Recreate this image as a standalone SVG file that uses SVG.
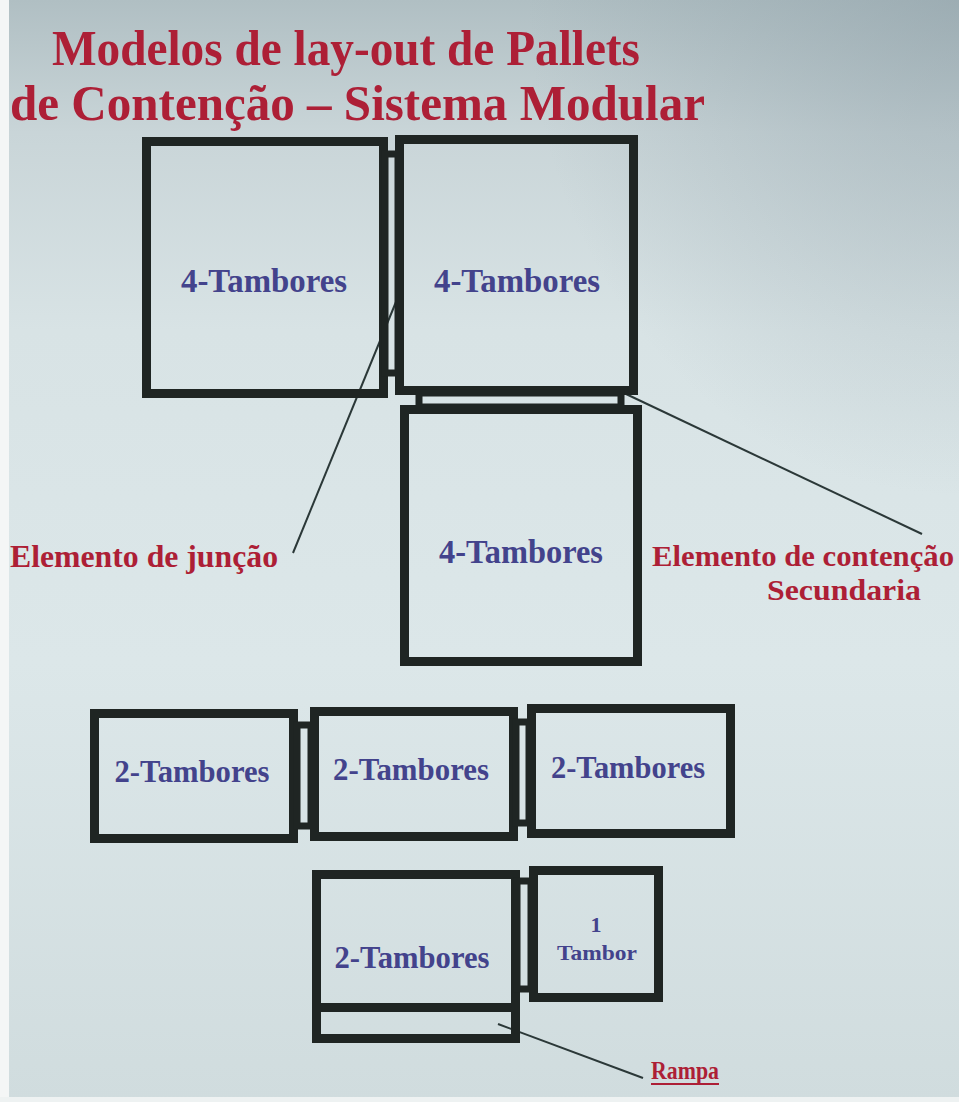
<svg xmlns="http://www.w3.org/2000/svg" width="959" height="1102" viewBox="0 0 959 1102">
  <defs>
    <linearGradient id="bg" x1="0" y1="0" x2="0" y2="1">
      <stop offset="0" stop-color="#b0bfc3"/>
      <stop offset="0.12" stop-color="#c9d5d8"/>
      <stop offset="0.3" stop-color="#d8e3e5"/>
      <stop offset="0.6" stop-color="#dce7e9"/>
      <stop offset="1" stop-color="#d0dcde"/>
    </linearGradient>
    <radialGradient id="shade" cx="1" cy="0" r="0.45">
      <stop offset="0" stop-color="#8597a0" stop-opacity="0.45"/>
      <stop offset="1" stop-color="#8597a0" stop-opacity="0"/>
    </radialGradient>
    <style>
      .box { fill: none; stroke: #1f2523; stroke-width: 9; }
      .junc { fill: none; stroke: #1f2523; stroke-width: 7; }
      .lead { fill: none; stroke: #2b3838; stroke-width: 2; }
      .title { font-family: "Liberation Serif", "Times New Roman", serif; font-weight: bold; fill: #ad1f36; }
      .red { font-family: "Liberation Serif", "Times New Roman", serif; font-weight: bold; fill: #ad1f36; }
      .blue { font-family: "Liberation Serif", "Times New Roman", serif; font-weight: bold; fill: #43438c; }
    </style>
  </defs>
  <rect x="0" y="0" width="959" height="1102" fill="url(#bg)"/>
  <rect x="0" y="0" width="959" height="1102" fill="url(#shade)"/>
  <rect x="0" y="0" width="9" height="1102" fill="#f4f6f6"/>
  <rect x="0" y="1097" width="959" height="5" fill="#eef2f2"/>

  <g id="title">
    <text class="title" x="52" y="65" font-size="50" textLength="588" lengthAdjust="spacingAndGlyphs">Modelos de lay-out de Pallets</text>
    <text class="title" x="10" y="120" font-size="50" textLength="695" lengthAdjust="spacingAndGlyphs">de Contenção – Sistema Modular</text>
  </g>

  <g id="connectors">
    <line class="lead" x1="398" y1="297" x2="293" y2="553"/>
    <line class="lead" x1="626" y1="394" x2="922" y2="534"/>
    <line class="lead" x1="498" y1="1024" x2="643" y2="1078"/>
  </g>

  <g id="box-a">
    <rect class="box" x="146.5" y="141.5" width="237" height="252"/>
    <text class="blue" x="264" y="292" font-size="34" text-anchor="middle" textLength="166" lengthAdjust="spacingAndGlyphs">4-Tambores</text>
  </g>
  <g id="junc-ab">
    <rect class="junc" x="385" y="154" width="13" height="219"/>
  </g>
  <g id="box-b">
    <rect class="box" x="399.5" y="139.5" width="234" height="251"/>
    <text class="blue" x="517" y="292" font-size="34" text-anchor="middle" textLength="166" lengthAdjust="spacingAndGlyphs">4-Tambores</text>
  </g>
  <g id="junc-bc">
    <rect class="junc" x="419" y="393" width="202" height="14"/>
  </g>
  <g id="box-c">
    <rect class="box" x="404.5" y="409.5" width="233" height="252"/>
    <text class="blue" x="521" y="563" font-size="34" text-anchor="middle" textLength="164" lengthAdjust="spacingAndGlyphs">4-Tambores</text>
  </g>

  <g id="label-juncao">
    <text class="red" x="10" y="567" font-size="32" textLength="268" lengthAdjust="spacingAndGlyphs">Elemento de junção</text>
  </g>
  <g id="label-contencao">
    <text class="red" x="652" y="566" font-size="30" textLength="302" lengthAdjust="spacingAndGlyphs">Elemento de contenção</text>
    <text class="red" x="844" y="600" font-size="30" text-anchor="middle" textLength="154" lengthAdjust="spacingAndGlyphs">Secundaria</text>
  </g>

  <g id="box-d">
    <rect class="box" x="94.5" y="713.5" width="199" height="125"/>
    <text class="blue" x="192" y="782" font-size="32" text-anchor="middle" textLength="155" lengthAdjust="spacingAndGlyphs">2-Tambores</text>
  </g>
  <g id="junc-de">
    <rect class="junc" x="297" y="725" width="14" height="101"/>
  </g>
  <g id="box-e">
    <rect class="box" x="314.5" y="711.5" width="199" height="125"/>
    <text class="blue" x="411" y="780" font-size="32" text-anchor="middle" textLength="156" lengthAdjust="spacingAndGlyphs">2-Tambores</text>
  </g>
  <g id="junc-ef">
    <rect class="junc" x="516" y="722" width="13" height="101"/>
  </g>
  <g id="box-f">
    <rect class="box" x="531.5" y="708.5" width="199" height="125"/>
    <text class="blue" x="628" y="778" font-size="32" text-anchor="middle" textLength="154" lengthAdjust="spacingAndGlyphs">2-Tambores</text>
  </g>

  <g id="box-g">
    <rect class="box" x="316.5" y="874.5" width="199" height="164"/>
    <line class="box" x1="316" y1="1007.5" x2="516" y2="1007.5"/>
    <text class="blue" x="412" y="968" font-size="32" text-anchor="middle" textLength="155" lengthAdjust="spacingAndGlyphs">2-Tambores</text>
  </g>
  <g id="junc-gh">
    <rect class="junc" x="517" y="881" width="14" height="108"/>
  </g>
  <g id="box-h">
    <rect class="box" x="533.5" y="870.5" width="125" height="127"/>
    <text class="blue" x="596" y="932" font-size="22" text-anchor="middle">1</text>
    <text class="blue" x="597" y="960" font-size="22" text-anchor="middle" textLength="80" lengthAdjust="spacingAndGlyphs">Tambor</text>
  </g>

  <g id="label-rampa">
    <text class="red" x="651" y="1079" font-size="26" textLength="68" lengthAdjust="spacingAndGlyphs">Rampa</text>
    <line x1="651" y1="1084" x2="719" y2="1084" stroke="#ad1f36" stroke-width="2"/>
  </g>
</svg>
